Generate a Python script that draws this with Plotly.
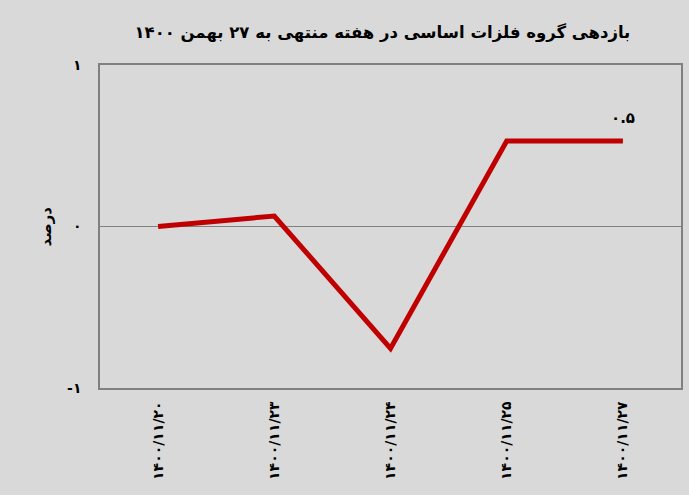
import plotly.graph_objects as go

categories = ["1400/11/20", "1400/11/23", "1400/11/24", "1400/11/25", "1400/11/27"]
tick_labels = ["۱۴۰۰/۱۱/۲۰", "۱۴۰۰/۱۱/۲۳", "۱۴۰۰/۱۱/۲۴", "۱۴۰۰/۱۱/۲۵", "۱۴۰۰/۱۱/۲۷"]
returns = [0.0, 0.065, -0.755, 0.53, 0.53]
y_ticks = [-1, 0, 1]
y_tick_labels = ["-۱", "۰", "۱"]
last_label = "۰.۵"
title = "بازدهی گروه فلزات اساسی در هفته منتهی به ۲۷ بهمن ۱۴۰۰"
y_title = "درصد"

font = "DejaVu Sans"
bg = "#D9D9D9"

fig = go.Figure()
fig.add_trace(go.Scatter(
    x=categories, y=returns, mode="lines",
    line=dict(color="#C00000", width=5),
    hoverinfo="skip", showlegend=False, cliponaxis=False,
))

fig.add_annotation(
    x=categories[-1], y=returns[-1], text="<b>" + last_label + "</b>",
    showarrow=False, yshift=23, font=dict(family=font, size=15, color="black"),
)
fig.add_annotation(
    xref="paper", yref="paper", x=-0.093, xanchor="center", y=0.5, text="<b>" + y_title + "</b>",
    textangle=-90, showarrow=False, font=dict(family=font, size=15, color="black"),
)

fig.update_layout(
    width=689, height=495,
    margin=dict(l=100, r=8, t=65, b=107, autoexpand=False),
    paper_bgcolor=bg, plot_bgcolor=bg,
    title=dict(text="<b>" + title + "</b>", x=0.555, xanchor="center", y=0.935, yanchor="middle",
               font=dict(family=font, size=16.5, color="black")),
    xaxis=dict(
        type="category", tickvals=categories, ticktext=["<b>" + t + "</b>" for t in tick_labels],
        tickangle=-90, range=[-0.5, 4.5],
        showgrid=False, zeroline=False, showline=True, mirror=True,
        linecolor="#808080", linewidth=1.5, ticks="", ticklabelstandoff=6,
        tickfont=dict(family=font, size=14, color="black"),
    ),
    yaxis=dict(
        range=[-1, 1], tickvals=y_ticks, ticktext=["<b>" + t + "</b>" for t in y_tick_labels],
        showgrid=False, zeroline=True, zerolinecolor="#808080", zerolinewidth=1,
        showline=True, mirror=True, linecolor="#808080", linewidth=1.5, ticks="",
        ticklabelstandoff=14,
        tickfont=dict(family=font, size=14, color="black"),
    ),
)

fig.write_html(
    "out.html",
    config={"displayModeBar": False},
    post_script="document.body.style.margin='0';document.body.style.background='#D9D9D9';",
)
